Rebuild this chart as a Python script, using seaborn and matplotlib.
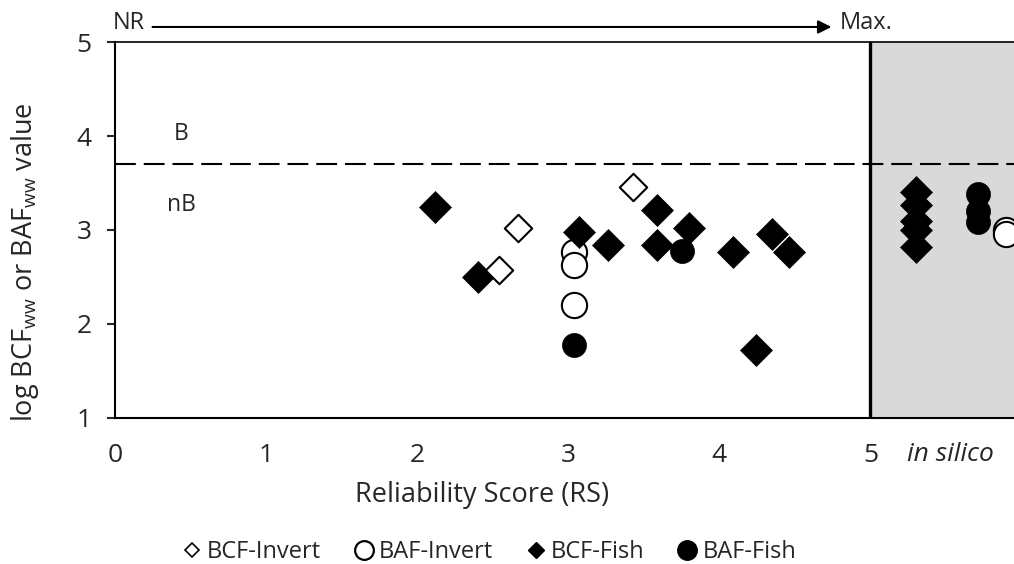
import pandas as pd
import matplotlib.pyplot as plt
import seaborn as sns
from matplotlib.lines import Line2D

# データ
bcf_invert_rs = [2.54, 2.67, 3.43]
bcf_invert_val = [2.57, 3.02, 3.46]

baf_invert_rs = [3.04, 3.04, 3.04, 5.90, 5.90]
baf_invert_val = [2.77, 2.63, 2.20, 3.00, 2.96]

bcf_fish_rs = [2.12, 2.40, 3.07, 3.26, 3.59, 3.59, 3.80, 4.09, 4.35, 4.46, 4.24,
               5.30, 5.30, 5.30, 5.30, 5.30]
bcf_fish_val = [3.25, 2.50, 2.98, 2.84, 3.21, 2.84, 3.02, 2.77, 2.96, 2.77, 1.72,
                3.40, 3.27, 3.10, 3.00, 2.82]

baf_fish_rs = [3.04, 3.75, 5.71, 5.71, 5.71]
baf_fish_val = [1.78, 2.78, 3.38, 3.20, 3.08]

x_ticks = [0, 1, 2, 3, 4, 5]
y_ticks = [1, 2, 3, 4, 5]
b_threshold = 3.7

sns.set_style('white')
plt.rcParams['font.family'] = ['Open Sans', 'DejaVu Sans']
plt.rcParams['mathtext.fontset'] = 'custom'
plt.rcParams['mathtext.rm'] = 'Open Sans'

fig = plt.figure(figsize=(10.14, 5.64), dpi=100)
ax = fig.add_axes([0.1134, 0.2589, 0.8866, 0.6666])

# in silico 領域
ax.axvspan(5, 6.5, color='#d9d9d9', zorder=0)
ax.axvline(5, color='black', lw=2.4, zorder=1)
ax.axhline(b_threshold, color='black', lw=1.5, ls=(0, (10, 3.8)), zorder=1)

def df_of(rs, val):
    return pd.DataFrame({'rs': rs, 'val': val})

sns.scatterplot(x='rs', y='val', data=df_of(baf_invert_rs, baf_invert_val), ax=ax,
                marker='o', s=330, facecolor='white', edgecolor='black', linewidth=1.5, zorder=3)
sns.scatterplot(x='rs', y='val', data=df_of(bcf_fish_rs, bcf_fish_val), ax=ax,
                marker='D', s=265, color='black', edgecolor='black', linewidth=0.5, zorder=4)
sns.scatterplot(x='rs', y='val', data=df_of(bcf_invert_rs, bcf_invert_val), ax=ax,
                marker='D', s=195, facecolor='white', edgecolor='black', linewidth=1.5, zorder=5)
sns.scatterplot(x='rs', y='val', data=df_of(baf_fish_rs, baf_fish_val), ax=ax,
                marker='o', s=300, color='black', edgecolor='black', linewidth=0.5, zorder=6)

ax.set_xlim(0, 5.95)
ax.set_ylim(1, 5)
ax.set_xticks(x_ticks)
ax.set_yticks(y_ticks)
ax.set_xticklabels([str(t) for t in x_ticks])
ax.set_yticklabels([str(t) for t in y_ticks])
ax.tick_params(axis='x', direction='in', length=5, width=1.5, pad=18, labelsize=19)
ax.tick_params(axis='y', direction='out', length=5.8, width=1.5, pad=11, labelsize=19, left=True)

for side in ['left', 'bottom']:
    ax.spines[side].set_linewidth(1.5)
    ax.spines[side].set_color('black')
ax.spines['top'].set_linewidth(1.2)
ax.spines['top'].set_color('black')
ax.spines['right'].set_visible(False)

ax.set_xlabel('Reliability Score (RS)', fontsize=19.5, va='center')
ax.xaxis.set_label_coords((482 - 115) / 899, (418 - 495) / 376)
ax.set_ylabel(r'log BCF$_{\mathrm{ww}}$ or BAF$_{\mathrm{ww}}$ value', fontsize=19.5, va='center')
ax.yaxis.set_label_coords((25 - 115) / 899, (418 - 262) / 376)

ax.text(5.53, 0.61, 'in silico', style='italic', fontsize=19, ha='center', va='center',
        clip_on=False)
ax.text(0.44, 4.02, 'B', fontsize=16.5, ha='center', va='center')
ax.text(0.44, 3.27, 'nB', fontsize=16.5, ha='center', va='center')

# 上部の矢印
ax.annotate('', xy=(4.76, 5.16), xytext=(0.23, 5.16), annotation_clip=False,
            arrowprops=dict(arrowstyle='-|>', color='black', lw=1.5, mutation_scale=20))
ax.text(0.09, 5.2, 'NR', fontsize=17, ha='center', va='center', clip_on=False)
ax.text(4.80, 5.2, 'Max.', fontsize=17, ha='left', va='center', clip_on=False)

handles = [
    Line2D([], [], ls='none', marker='D', ms=7.5, mfc='white', mec='black', mew=1.2),
    Line2D([], [], ls='none', marker='o', ms=13.5, mfc='white', mec='black', mew=1.6),
    Line2D([], [], ls='none', marker='D', ms=8.5, mfc='black', mec='black'),
    Line2D([], [], ls='none', marker='o', ms=14, mfc='black', mec='black'),
]
labels = ['BCF-Invert', 'BAF-Invert', 'BCF-Fish', 'BAF-Fish']
fig.legend(handles, labels, loc='center', bbox_to_anchor=(490 / 1014, 1 - 552 / 564),
           ncol=4, frameon=False, fontsize=17, handlelength=0.7, handletextpad=0.3,
           columnspacing=1.45, borderaxespad=0, borderpad=0)

fig.savefig('out.png', dpi=100)
